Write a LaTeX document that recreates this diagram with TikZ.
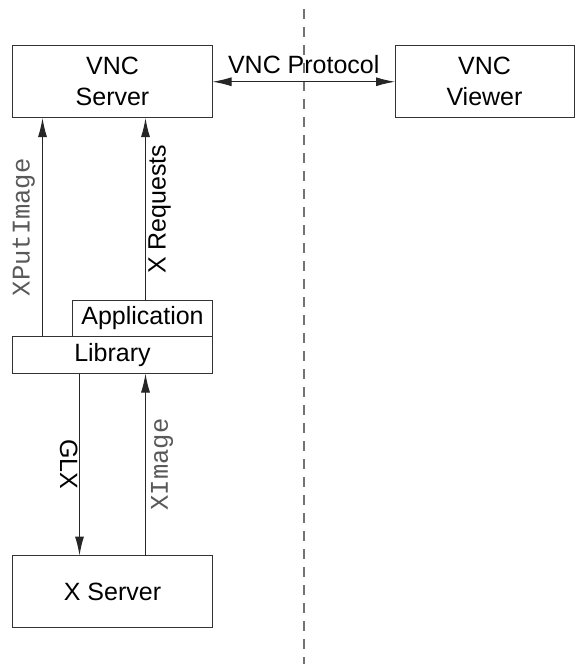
\documentclass[tikz,border=0pt]{standalone}
\usepackage{fontspec}
\setmainfont{Liberation Sans}
\newfontfamily\monofont{Liberation Mono}
\usetikzlibrary{arrows.meta}
\begin{document}
\begin{tikzpicture}[x=1pt,y=-1pt,
  box/.style={draw=black!80, line width=1pt, inner sep=0pt, outer sep=0pt, align=center, font=\fontsize{25}{31}\selectfont},
  tip/.tip={Latex[length=19pt,width=9pt]},
  arr/.style={draw=black!85, line width=1pt, -tip},
  lbl/.style={font=\fontsize{25}{29}\selectfont},
  mono/.style={font=\monofont\fontsize{25.5}{29}\selectfont, text=black!65},
  sepline/.style={draw=black!55, line width=1.3pt, dash pattern=on 10pt off 8pt}]
\useasboundingbox (0,0) rectangle (584,666);
\coordinate (st) at (304,9);
\coordinate (sb) at (304,664);
\draw[sepline] (st) -- (sb);
\node[box, minimum width=200pt, minimum height=72.5pt] (vs) at (112.5,81.75) {VNC\\Server};
\node[box, minimum width=179pt, minimum height=72.5pt] (vv) at (484.5,81.75) {VNC\\Viewer};
\node[box, minimum width=140pt, minimum height=36pt] (app) at (142.5,318.5) {Application};
\node[box, minimum width=200pt, minimum height=37pt] (lib) at (112.5,355) {Library};
\node[box, minimum width=200pt, minimum height=72pt] (xs) at (112.5,591.5) {X Server};
\draw[arr, tip-tip] (vs.east) -- (vv.west) node[midway, above, lbl, inner sep=8pt] {VNC Protocol};
\draw[arr] ([xshift=30pt]lib.north west) -- ([xshift=30pt]vs.south west) node[midway, rotate=90, anchor=south, mono, inner sep=7pt] {XPutImage};
\draw[arr] ([xshift=73pt]app.north west) -- ([xshift=133pt]vs.south west) node[midway, rotate=90, anchor=north, lbl, inner sep=2.5pt] {X Requests};
\draw[arr] ([xshift=67pt]lib.south west) -- ([xshift=67pt]xs.north west) node[midway, rotate=-90, anchor=north, lbl, inner sep=1.5pt] {GLX};
\draw[arr] ([xshift=133pt]xs.north west) -- ([xshift=133pt]lib.south west) node[midway, rotate=90, anchor=north, mono, inner sep=5pt] {XImage};
\end{tikzpicture}
\end{document}
